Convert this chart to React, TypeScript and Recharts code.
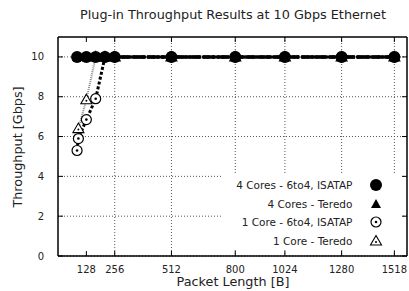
import React from "react";
import {
  ComposedChart,
  Line,
  XAxis,
  YAxis,
  CartesianGrid,
  ReferenceLine,
} from "recharts";

// packet lengths [B] and throughput [Gbps]
const lengths4Cores = [86, 128, 170, 212, 256, 512, 800, 1024, 1280, 1518];
const cores4Sixto4 = [10, 10, 10, 10, 10, 10, 10, 10, 10, 10];
const cores4Teredo = [10, 10, 10, 10, 10, 10, 10, 10, 10, 10];

const lengths1Sixto4 = [86, 92, 128, 170, 212, 256, 512, 800, 1024, 1280, 1518];
const core1Sixto4 = [5.3, 5.9, 6.85, 7.9, 10, 10, 10, 10, 10, 10, 10];

const lengths1Teredo = [92, 128, 170, 212, 256, 512, 800, 1024, 1280, 1518];
const core1Teredo = [6.4, 7.85, 10, 10, 10, 10, 10, 10, 10, 10];

const xTicks = [128, 256, 512, 800, 1024, 1280, 1518];
const yTicks = [0, 2, 4, 6, 8, 10];

const X_MAX = 1575;
const Y_MAX = 11;

const FONT = "'DejaVu Sans', sans-serif";

const toPoints = (xs: number[], ys: number[]) =>
  xs.map((x, i) => ({ len: x, val: ys[i] }));

const FilledCircle = (p: any) => (
  <circle key={p.index} cx={p.cx} cy={p.cy} r={6} fill="#000" />
);

const FilledTriangle = (p: any) => (
  <path
    key={p.index}
    d={`M${p.cx},${p.cy - 5} L${p.cx + 5},${p.cy + 4} L${p.cx - 5},${p.cy + 4} Z`}
    fill="#000"
  />
);

const DotCircle = (p: any) => (
  <g key={p.index}>
    <circle cx={p.cx} cy={p.cy} r={5} fill="#fff" stroke="#000" strokeWidth={1.2} />
    <circle cx={p.cx} cy={p.cy} r={1.3} fill="#000" />
  </g>
);

const OpenTriangle = (p: any) => (
  <g key={p.index}>
    <path
      d={`M${p.cx},${p.cy - 5.5} L${p.cx + 5.5},${p.cy + 4} L${p.cx - 5.5},${p.cy + 4} Z`}
      fill="#fff"
      stroke="#000"
      strokeWidth={1.1}
    />
    <circle cx={p.cx} cy={p.cy + 1} r={1} fill="#000" />
  </g>
);

const legendRows = [
  { label: "4 Cores - 6to4, ISATAP", Mark: FilledCircle },
  { label: "4 Cores - Teredo", Mark: FilledTriangle },
  { label: "1 Core - 6to4, ISATAP", Mark: DotCircle },
  { label: "1 Core - Teredo", Mark: OpenTriangle },
];

export default function App() {
  // inward tick length, 5px expressed in data units of the 349x219 plot
  const xTickLen = (5 * X_MAX) / 349;
  const yTickLen = (5 * Y_MAX) / 219;

  return (
    <div style={{ position: "relative", width: 409, height: 291, background: "#fff", fontFamily: FONT, color: "#222" }}>
      <style>{"body{margin:0}"}</style>
      <ComposedChart
        width={409}
        height={291}
        margin={{ top: 37, right: 2, left: 0, bottom: 0 }}
      >
        <CartesianGrid
          stroke="#555"
          strokeDasharray="1 2"
          horizontalValues={yTicks}
          verticalValues={xTicks}
        />
        <XAxis
          dataKey="len"
          type="number"
          domain={[0, X_MAX]}
          ticks={xTicks}
          allowDuplicatedCategory={false}
          height={35}
          axisLine={{ stroke: "#000", strokeWidth: 1.5 }}
          tickLine={false}
          tick={{ fontSize: 10, fill: "#222", fontFamily: FONT }}
          tickMargin={4}
        />
        <YAxis
          dataKey="val"
          type="number"
          domain={[0, Y_MAX]}
          ticks={yTicks}
          width={58}
          axisLine={{ stroke: "#000", strokeWidth: 1.5 }}
          tickLine={false}
          tick={{ fontSize: 10, fill: "#222", fontFamily: FONT }}
          tickMargin={8}
        />

        {/* frame: top and right edges */}
        <ReferenceLine y={Y_MAX} stroke="#000" strokeWidth={1.5} />
        <ReferenceLine x={X_MAX} stroke="#000" strokeWidth={1.5} />

        {/* inward tick marks on all four sides, like gnuplot */}
        {xTicks.map((t) => (
          <ReferenceLine key={`xb${t}`} segment={[{ x: t, y: 0 }, { x: t, y: yTickLen }]} stroke="#000" />
        ))}
        {xTicks.map((t) => (
          <ReferenceLine key={`xt${t}`} segment={[{ x: t, y: Y_MAX }, { x: t, y: Y_MAX - yTickLen }]} stroke="#000" />
        ))}
        {yTicks.map((t) => (
          <ReferenceLine key={`yl${t}`} segment={[{ x: 0, y: t }, { x: xTickLen, y: t }]} stroke="#000" />
        ))}
        {yTicks.map((t) => (
          <ReferenceLine key={`yr${t}`} segment={[{ x: X_MAX, y: t }, { x: X_MAX - xTickLen, y: t }]} stroke="#000" />
        ))}

        <Line
          data={toPoints(lengths1Teredo, core1Teredo)}
          dataKey="val"
          stroke="#888"
          strokeWidth={2}
          strokeDasharray="1 1"
          dot={OpenTriangle}
          isAnimationActive={false}
        />
        <Line
          data={toPoints(lengths1Sixto4, core1Sixto4)}
          dataKey="val"
          stroke="#000"
          strokeWidth={3}
          strokeDasharray="3 2"
          dot={DotCircle}
          isAnimationActive={false}
        />
        <Line
          data={toPoints(lengths4Cores, cores4Teredo)}
          dataKey="val"
          stroke="#000"
          strokeWidth={3}
          strokeDasharray="6 3"
          dot={FilledTriangle}
          isAnimationActive={false}
        />
        <Line
          data={toPoints(lengths4Cores, cores4Sixto4)}
          dataKey="val"
          stroke="#000"
          strokeWidth={3.5}
          strokeDasharray="12 2"
          dot={FilledCircle}
          isAnimationActive={false}
        />
      </ComposedChart>

      {/* key, with a white box over the grid, inside the plot's lower right corner */}
      <div style={{ position: "absolute", left: 222, top: 175, width: 179, height: 75, background: "#fff" }}>
        <div style={{ position: "absolute", left: -22, top: 1, width: 200 }}>
          {legendRows.map(({ label, Mark }) => (
            <div key={label} style={{ display: "flex", alignItems: "center", height: 18.5 }}>
              <div style={{ width: 154, textAlign: "right", fontSize: 10.5 }}>{label}</div>
              <svg width={48} height={18} style={{ display: "block" }}>
                <Mark cx={24} cy={9} index={0} />
              </svg>
            </div>
          ))}
        </div>
      </div>

      <div style={{ position: "absolute", left: 0, width: 466, top: 7, textAlign: "center", fontSize: 12.8 }}>
        Plug-in Throughput Results at 10 Gbps Ethernet
      </div>
      <div style={{ position: "absolute", left: 0, width: 466, top: 274, textAlign: "center", fontSize: 12.8 }}>
        Packet Length [B]
      </div>
      <div
        style={{
          position: "absolute",
          left: 17,
          top: 147,
          fontSize: 12.8,
          whiteSpace: "nowrap",
          transform: "translate(-50%, -50%) rotate(-90deg)",
        }}
      >
        Throughput [Gbps]
      </div>
    </div>
  );
}
